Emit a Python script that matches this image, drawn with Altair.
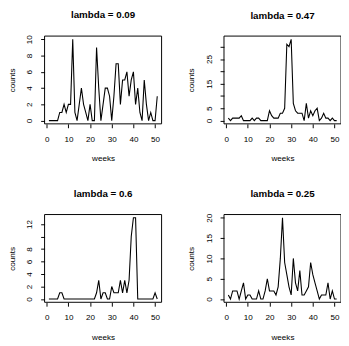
import altair as alt
import pandas as pd

# ---- data -------------------------------------------------------------
weeks = list(range(1, 52))

titles = ["lambda = 0.09", "lambda = 0.47", "lambda = 0.6", "lambda = 0.25"]

counts_009 = [0, 0, 0, 0, 0, 1, 1, 2, 1, 2, 2, 10, 1, 0, 2, 4, 2, 1, 0, 2,
              0, 0, 9, 4, 0, 2, 4, 4, 3, 0, 3, 7, 7, 2, 5, 5, 6, 3, 5, 6,
              2, 4, 1, 0, 5, 2, 0, 1, 0, 0, 3]
counts_047 = [1, 0, 1, 1, 1, 1, 2, 0, 0, 0, 0, 1, 0, 1, 1, 0, 0, 0, 0, 4,
              2, 1, 1, 1, 3, 3, 5, 31, 30, 33, 7, 4, 3, 3, 3, 0, 7, 1, 4, 2,
              4, 5, 0, 1, 3, 1, 1, 0, 1, 0, 0]
counts_06 = [0, 0, 0, 0, 0, 1, 1, 0, 0, 0, 0, 0, 0, 0, 0, 0, 0, 0, 0, 0,
             0, 0, 1, 3, 0, 1, 1, 0, 0, 2, 1, 1, 1, 3, 1, 3, 1, 3, 10, 13,
             13, 0, 0, 0, 0, 0, 0, 0, 0, 1, 0]
counts_025 = [1, 0, 2, 2, 2, 0, 2, 4, 0, 1, 1, 0, 0, 0, 2, 0, 0, 2, 5, 2,
              2, 2, 1, 3, 10, 20, 9, 6, 3, 1, 10, 4, 2, 7, 1, 1, 2, 3, 9, 6,
              4, 2, 0, 1, 1, 1, 4, 0, 2, 0, 0]

y_max = [10, 33, 13, 20]
y_ticks = [[0, 2, 4, 6, 8, 10],
           [0, 5, 10, 15, 20, 25, 30],
           [0, 2, 4, 6, 8, 10, 12],
           [0, 5, 10, 15, 20]]
y_tick_labels = [[0, 2, 4, 6, 8, 10],
                 [0, 5, 15, 25],
                 [0, 2, 4, 6, 8, 12],
                 [0, 5, 10, 15, 20]]
x_ticks = [0, 10, 20, 30, 40, 50]
x_domain = [-1, 53]

FONT = "Liberation Sans"
FS = 8.3
W, H = 120, 90


def panel(title, counts, ymax, yticks, ylabels):
    df = pd.DataFrame({"weeks": weeks, "counts": counts})
    pad = 0.04 * ymax
    label_expr = ("indexof([" + ",".join(str(v) for v in ylabels) +
                  "], datum.value) >= 0 ? datum.label : ''")
    line = alt.Chart(df).mark_line(color="black", strokeWidth=1.1).encode(
        x=alt.X("weeks:Q",
                scale=alt.Scale(domain=x_domain, nice=False, zero=False),
                axis=alt.Axis(values=x_ticks, title="weeks", grid=False,
                              domain=False, tickSize=4, tickColor="black",
                              labelPadding=7, labelFlush=False,
                              labelOverlap=False, labelFont=FONT,
                              labelFontSize=FS, labelColor="black",
                              titleFont=FONT, titleFontSize=FS,
                              titleFontWeight="normal", titleColor="black",
                              titleY=36, titleBaseline="middle")),
        y=alt.Y("counts:Q",
                scale=alt.Scale(domain=[-pad, ymax + pad], nice=False, zero=False),
                axis=alt.Axis(values=yticks, labelExpr=label_expr,
                              title="counts", grid=False, domain=False,
                              tickSize=4, tickColor="black", labelPadding=7,
                              labelAngle=-90, labelAlign="center",
                              labelBaseline="bottom", labelFlush=False,
                              labelOverlap=False, labelFont=FONT,
                              labelFontSize=FS, labelColor="black",
                              titleFont=FONT, titleFontSize=FS,
                              titleFontWeight="normal", titleColor="black",
                              titleX=-33, titleAngle=-90,
                              titleBaseline="middle", titleAlign="center")),
    )
    frame = alt.Chart(pd.DataFrame({"f": [0]})).mark_rect(
        filled=False, stroke="black", strokeWidth=1
    ).encode(x=alt.value(0), x2=alt.value(W), y=alt.value(0), y2=alt.value(H))
    return alt.layer(line, frame).properties(
        width=W, height=H,
        title=alt.TitleParams(title, font=FONT, fontSize=10, fontWeight="bold",
                              color="black", anchor="middle", offset=5,
                              baseline="bottom"),
    )


series = [counts_009, counts_047, counts_06, counts_025]
panels = [panel(titles[i], series[i], y_max[i], y_ticks[i], y_tick_labels[i])
          for i in range(4)]

chart = alt.concat(*panels, columns=2, spacing={"row": 93, "column": 64},
                   bounds="flush").properties(
    padding={"left": 37.5, "top": 24.5, "right": 304, "bottom": 313},
    autosize=alt.AutoSizeParams(type="none"),
    background="white",
).configure_view(stroke="transparent")

chart.save("out.html", embed_options={"renderer": "svg", "actions": False})
